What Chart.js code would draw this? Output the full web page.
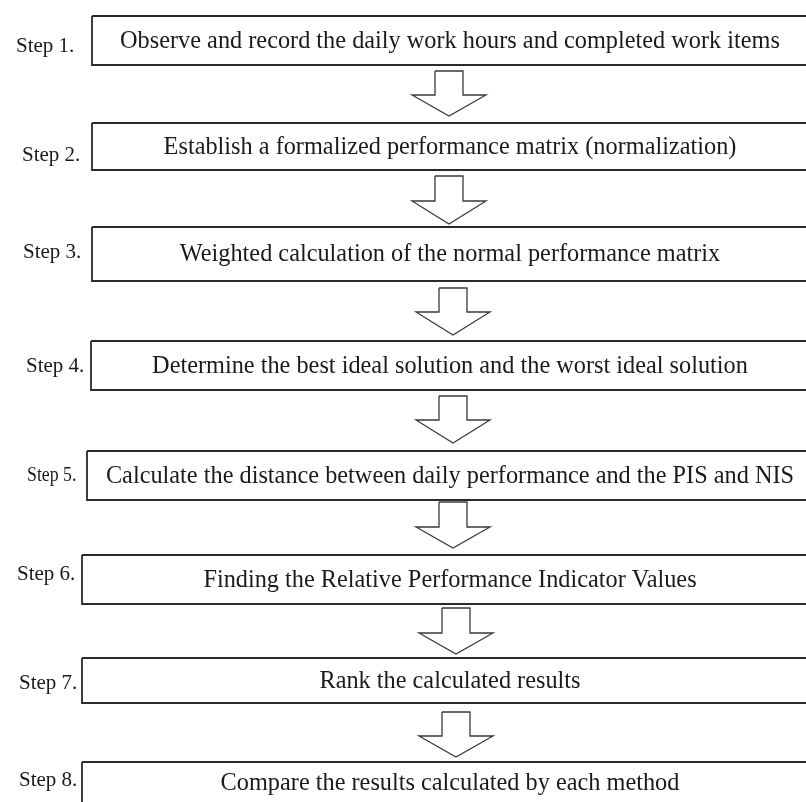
<!DOCTYPE html>
<html>
<head>
<meta charset="utf-8">
<script src="https://cdn.jsdelivr.net/npm/chart.js@4/dist/chart.umd.min.js"></script>
<style>
  html, body { margin: 0; padding: 0; background: #fff; }
  #wrap { width: 806px; height: 802px; }
</style>
</head>
<body>
<div id="wrap"><canvas id="flow"></canvas></div>
<script>
// Step labels and box texts
const stepLabels = ['Step 1.', 'Step 2.', 'Step 3.', 'Step 4.', 'Step 5.', 'Step 6.', 'Step 7.', 'Step 8.'];
const boxTexts = [
    'Observe and record the daily work hours and completed work items',
    'Establish a formalized performance matrix (normalization)',
    'Weighted calculation of the normal performance matrix',
    'Determine the best ideal solution and the worst ideal solution',
    'Calculate the distance between daily performance and the PIS and NIS',
    'Finding the Relative Performance Indicator Values',
    'Rank the calculated results',
    'Compare the results calculated by each method'
];

// Box edges (diagram units, y grows downward)
const boxLeft = [92, 92, 92, 91, 87, 82, 82, 82];
const boxRight = [808, 808, 808, 808, 808, 808, 808, 808];
const boxTop = [16, 123, 227, 341, 451, 555, 658, 762];
const boxBottom = [65, 170, 281, 390, 500, 604, 703, 830];

// Arrows between boxes
const arrowX = [449, 449, 453, 453, 453, 456, 456];
const arrowTop = [71, 176, 288, 396, 502, 608, 712];
const arrowNeck = [95, 201, 312, 420, 527, 633, 736];
const arrowTip = [116, 224, 335, 443, 548, 654, 757];

// Step label anchors
const stepX = [16, 22, 23, 26, 27, 17, 19, 19];
const stepY = [46, 155, 252, 366, 476, 574, 683, 780];

const SHAFT = 14, WING = 37;

const datasets = [];
boxLeft.forEach((l, i) => {
    const r = boxRight[i], t = boxTop[i], b = boxBottom[i];
    datasets.push({
        data: [{ x: l, y: t }, { x: r, y: t }, { x: r, y: b }, { x: l, y: b }, { x: l, y: t }],
        borderColor: '#2b2b2b', borderWidth: 1.8
    });
});
arrowX.forEach((cx, i) => {
    const t = arrowTop[i], n = arrowNeck[i], tip = arrowTip[i];
    datasets.push({
        data: [
            { x: cx - SHAFT, y: t }, { x: cx + SHAFT, y: t }, { x: cx + SHAFT, y: n },
            { x: cx + WING, y: n }, { x: cx, y: tip }, { x: cx - WING, y: n },
            { x: cx - SHAFT, y: n }, { x: cx - SHAFT, y: t }
        ],
        borderColor: '#3a3a3a', borderWidth: 1.3
    });
});
datasets.forEach(d => Object.assign(d, { showLine: true, fill: false, pointRadius: 0, tension: 0, borderJoinStyle: 'miter' }));

const SERIF = '"Liberation Serif", "Times New Roman", serif';

const textPlugin = {
    id: 'flowText',
    afterDatasetsDraw(chart) {
        const { ctx, scales: { x, y } } = chart;
        ctx.save();
        ctx.fillStyle = '#1a1a1a';
        ctx.textBaseline = 'middle';
        ctx.textAlign = 'center';
        ctx.font = '24.3px ' + SERIF;
        boxTexts.forEach((txt, i) => {
            const cy = i === 7 ? 784 : (boxTop[i] + boxBottom[i]) / 2 + 1;
            ctx.fillText(txt, x.getPixelForValue(450), y.getPixelForValue(cy));
        });
        ctx.textAlign = 'left';
        stepLabels.forEach((s, i) => {
            const px = x.getPixelForValue(stepX[i]), py = y.getPixelForValue(stepY[i]);
            if (i === 4) {
                // step 5 is set in a narrower face in the original
                ctx.save();
                ctx.translate(px, py);
                ctx.scale(0.89, 1);
                ctx.font = '20px ' + SERIF;
                ctx.fillText(s, 0, 0);
                ctx.restore();
            } else {
                ctx.font = '21px ' + SERIF;
                ctx.fillText(s, px, py);
            }
        });
        ctx.restore();
    }
};

new Chart(document.getElementById('flow'), {
    type: 'scatter',
    data: { datasets },
    options: {
        responsive: true,
        maintainAspectRatio: false,
        animation: false,
        layout: { padding: 0 },
        plugins: { legend: { display: false }, tooltip: { enabled: false } },
        scales: {
            x: { type: 'linear', min: 0, max: 806, display: false },
            y: { type: 'linear', min: 0, max: 802, reverse: true, display: false }
        }
    },
    plugins: [textPlugin]
});
</script>
</body>
</html>
